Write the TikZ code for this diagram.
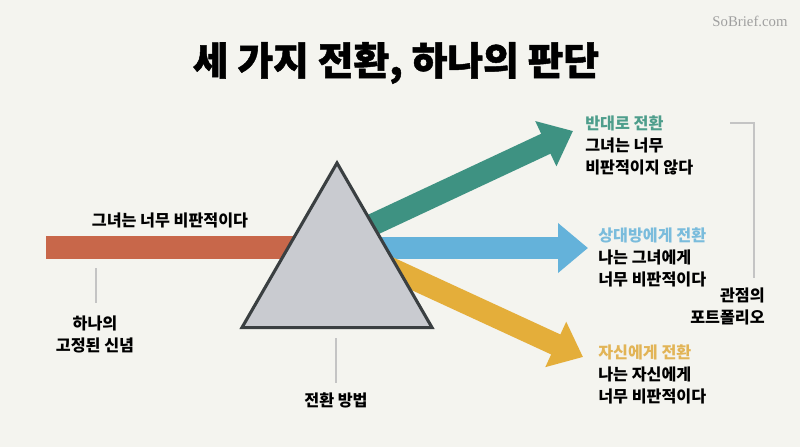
\documentclass[tikz,border=0pt]{standalone}
\usepackage{fontspec}
\setmainfont{Noto Sans CJK KR}
\newfontfamily\titlefont{Noto Sans CJK KR}[BoldFeatures={FakeBold=1.2}]
\newfontfamily\markfont{Liberation Serif}
\usepackage{tikz}
\usetikzlibrary{arrows.meta, positioning, shapes.geometric}
\definecolor{PaperBg}{HTML}{F4F4EF}
\definecolor{RayRed}{HTML}{C8674A}
\definecolor{RayTeal}{HTML}{3E9282}
\definecolor{RayBlue}{HTML}{64B2DA}
\definecolor{RayYellow}{HTML}{E4AE3A}
\definecolor{TealText}{HTML}{4E9E8C}
\definecolor{BlueText}{HTML}{7ABCDC}
\definecolor{YellowText}{HTML}{E2B456}
\definecolor{PrismFill}{HTML}{C9CBD0}
\definecolor{PrismEdge}{HTML}{3A3F41}
\definecolor{GuideGray}{HTML}{C4C4C4}

\begin{document}
\begin{tikzpicture}[
  x=0.025cm, y=-0.025cm,
  prism/.style={regular polygon, regular polygon sides=3, minimum size=5.485cm,
    inner sep=0pt, draw=PrismEdge, fill=PrismFill, line width=2.2pt},
  ray/.style={line width=0.55cm},
  beam/.style={ray, -{Triangle[length=0.75cm, width=1.2cm]}},
  guide/.style={draw=GuideGray, line width=0.8pt},
  caption/.style={font=\fontsize{11.5}{15.6}\selectfont\bfseries,
    text=black, align=center, inner sep=0pt},
  outcome/.style={caption, align=left, anchor=west},
  headline/.style={font=\titlefont\fontsize{27.6}{32}\selectfont\bfseries, text=black,
    anchor=base, inner sep=0pt}
]

%% Canvas
\fill[PaperBg] (0,0) rectangle (800,447);
\useasboundingbox (0,0) rectangle (800,447);

%% Title + watermark
\node[headline] (title) at (396,75) {세 가지 전환, 하나의 판단};
\node[font=\markfont\fontsize{10.5}{12}\selectfont, text=gray!75] (mark) at (750,21) {SoBrief.com};

%% Ray ends
\coordinate (redsrc)  at (46,247.5);
\coordinate (redend)  at (340,247.5);
\coordinate (tealsrc) at (340,240);
\coordinate (tealtip) at (573,131);
\coordinate (bluesrc) at (340,248);
\coordinate (bluetip) at (588,248);
\coordinate (yelsrc)  at (340,245);
\coordinate (yeltip)  at (583,357);

%% Rays (behind the prism)
\draw[ray, RayRed, line width=0.575cm] (redsrc) -- (redend);
\draw[beam, RayTeal]   (tealsrc) -- (tealtip);
\draw[beam, RayBlue]   (bluesrc) -- (bluetip);
\draw[beam, RayYellow] (yelsrc)  -- (yeltip);

%% Prism
\node[prism] (prism) at (337,272.7) {};

%% Left side labels
\node[caption] (belief) at (170,220) {그녀는 너무 비판적이다};
\node[caption] (fixed) at (95,334) {하나의\\고정된 신념};
\coordinate (fixedtop) at (96,268);
\coordinate (fixedbot) at (96,303);
\draw[guide] (fixedtop) -- (fixedbot);

%% Method label
\node[caption] (method) at (336,400) {전환 방법};
\coordinate (methodtop) at (336,338);
\coordinate (methodbot) at (336,383);
\draw[guide] (methodtop) -- (methodbot);

%% Right side outcomes
\node[outcome] (opposite) at (585,145)
  {{\color{TealText}반대로 전환}\\그녀는 너무\\비판적이지 않다};
\node[outcome] (other) at (598,257)
  {{\color{BlueText}상대방에게 전환}\\나는 그녀에게\\너무 비판적이다};
\node[outcome] (self) at (598,374)
  {{\color{YellowText}자신에게 전환}\\나는 자신에게\\너무 비판적이다};

%% Portfolio bracket
\node[caption, align=right, anchor=east] (portfolio) at (765,306) {관점의\\포트폴리오};
\coordinate (brtop) at (730,123);
\coordinate (brbot) at (754,278);
\draw[guide] (brtop) -| (brbot);

\end{tikzpicture}
\end{document}
